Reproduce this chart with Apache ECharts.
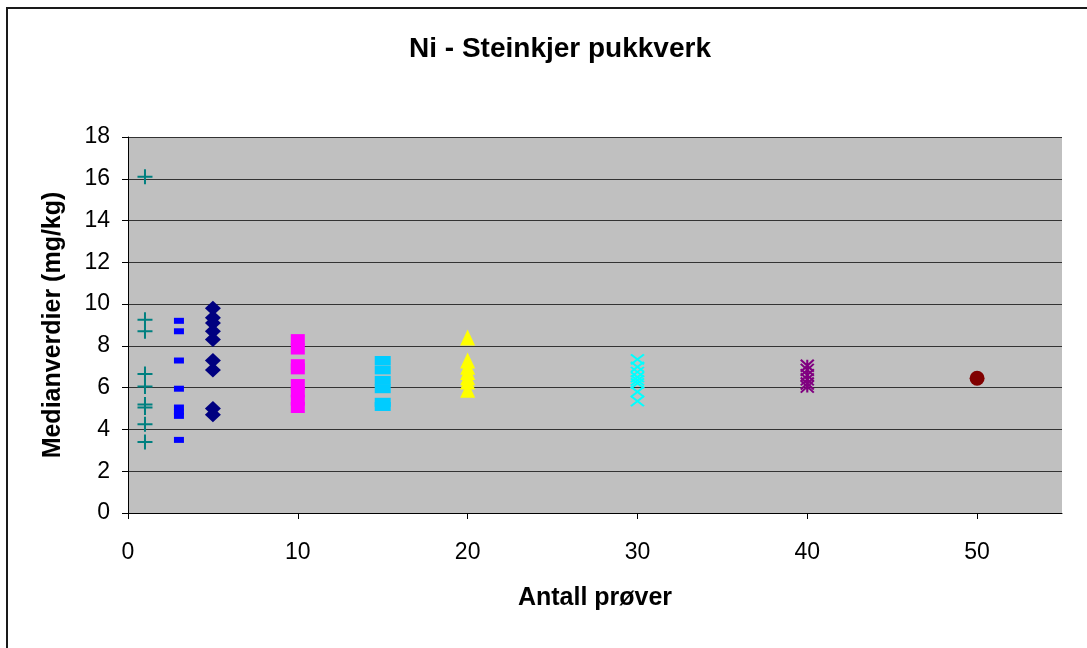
<!DOCTYPE html>
<html>
<head>
<meta charset="utf-8">
<script src="https://cdn.jsdelivr.net/npm/echarts@6/dist/echarts.min.js"></script>
<style>
html,body{margin:0;padding:0;background:#fff;}
#chart{width:1087px;height:648px;}
</style>
</head>
<body>
<div id="chart"></div>
<script>
// Sample sizes (x positions) and median values per group
const n1 = 1,  vals1  = [16.1, 9.25, 8.7, 6.65, 6.05, 5.2, 5.05, 4.25, 3.4];
const n3 = 3,  vals3  = [9.2, 8.7, 7.3, 5.95, 5.05, 4.85, 4.65, 3.5];
const n5 = 5,  vals5  = [9.8, 9.35, 9.1, 8.7, 8.3, 7.3, 6.85, 5.0, 4.7];
const n10 = 10, vals10 = [8.3, 7.85, 7.1, 6.9, 6.15, 5.8, 5.4, 5.05];
const n15 = 15, vals15 = [7.3, 6.85, 6.35, 5.95, 5.3, 5.1];
const n20 = 20, vals20 = [8.4, 7.3, 7.0, 6.75, 6.5, 6.3, 5.9];
const n30 = 30, vals30 = [7.35, 7.0, 6.75, 6.5, 6.35, 6.2, 5.8, 5.35];
const n40 = 40, vals40 = [7.05, 6.85, 6.6, 6.4, 6.2, 6.05];
const n50 = 50, vals50 = [6.45];
const xTicks = [0, 10, 20, 30, 40, 50];

const titleText = 'Ni - Steinkjer pukkverk';
const xName = 'Antall prøver';
const yName = 'Medianverdier (mg/kg)';

const FONT = '"Liberation Sans", Arial, sans-serif';

function pts(n, vals) { return vals.map(v => [n, v]); }

function sc(n, vals, symbol, size, color, stroke) {
  return {
    type: 'scatter',
    data: pts(n, vals),
    symbol: symbol,
    symbolSize: size,
    silent: true,
    itemStyle: stroke
      ? { color: 'rgba(0,0,0,0)', borderColor: color, borderWidth: 2, opacity: 1 }
      : { color: color, opacity: 1 }
  };
}

const chart = echarts.init(document.getElementById('chart'), null, { renderer: 'canvas' });
chart.setOption({
  animation: false,
  backgroundColor: '#ffffff',
  title: {
    text: titleText,
    left: 555,
    top: 30,
    textAlign: 'center',
    textStyle: { fontFamily: FONT, fontSize: 28, fontWeight: 'bold', color: '#000' }
  },
  graphic: [{
    type: 'rect',
    shape: { x: 7, y: 8, width: 1100, height: 700 },
    style: { fill: 'none', stroke: '#1a1a1a', lineWidth: 2 },
    silent: true,
    z: -10
  }],
  grid: {
    left: 128, right: 25, top: 137, bottom: 135,
    show: true, backgroundColor: '#c0c0c0', borderWidth: 0
  },
  xAxis: {
    type: 'value',
    min: 0, max: 55, interval: 10,
    name: xName,
    nameLocation: 'middle',
    nameGap: 73,
    nameTextStyle: { fontFamily: FONT, fontSize: 25, fontWeight: 'bold', color: '#000' },
    axisLine: { show: true, onZero: false, lineStyle: { color: '#000', width: 1 } },
    axisTick: { show: true, inside: false, length: 6, customValues: xTicks, lineStyle: { color: '#000' } },
    axisLabel: { customValues: xTicks, fontFamily: FONT, fontSize: 23, color: '#000', margin: 28 },
    splitLine: { show: false }
  },
  yAxis: {
    type: 'value',
    min: 0, max: 18, interval: 2,
    name: yName,
    nameLocation: 'middle',
    nameGap: 62,
    nameRotate: 90,
    nameTextStyle: { fontFamily: FONT, fontSize: 25, fontWeight: 'bold', color: '#000' },
    axisLine: { show: true, lineStyle: { color: '#000', width: 1 } },
    axisTick: { show: true, inside: false, length: 6, lineStyle: { color: '#000' } },
    axisLabel: { fontFamily: FONT, fontSize: 23, color: '#000', margin: 18 },
    splitLine: { show: true, lineStyle: { color: '#333', width: 1 } }
  },
  series: [
    sc(n1, vals1, 'path://M0,5H10M5,0V10', [15, 15], '#008080', true),
    sc(n3, vals3, 'rect', [10, 6], '#0000ff', false),
    sc(n5, vals5, 'diamond', [16, 15], '#000080', false),
    sc(n10, vals10, 'rect', [14, 11], '#ff00ff', false),
    sc(n15, vals15, 'rect', [16, 9], '#00ccff', false),
    sc(n20, vals20, 'triangle', [15, 16], '#ffff00', false),
    sc(n30, vals30, 'path://M0,0L10,10M10,0L0,10', [13, 10], '#00ffff', true),
    sc(n40, vals40, 'path://M0,0L10,10M10,0L0,10M5,0V10', [13, 12], '#800080', true),
    sc(n50, vals50, 'circle', 15, '#800000', false)
  ]
});
</script>
</body>
</html>
